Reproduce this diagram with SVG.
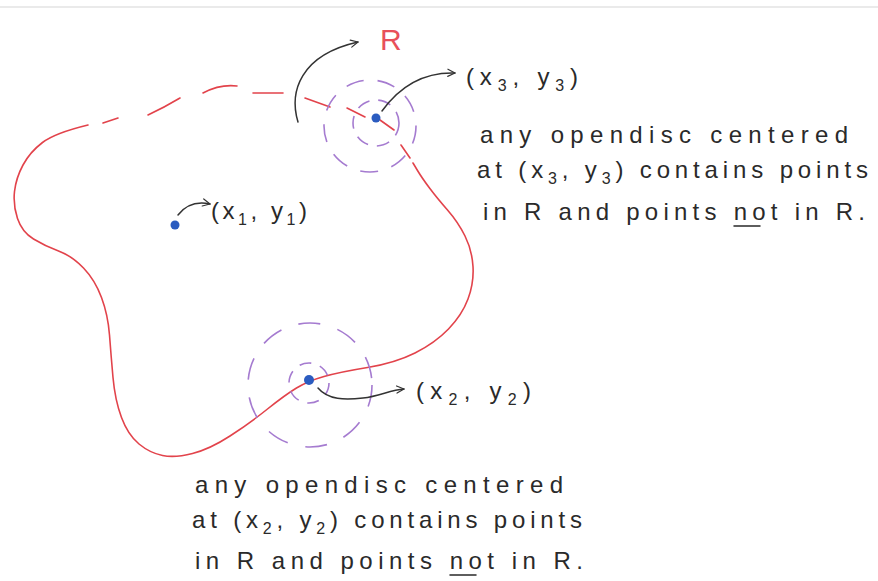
<svg xmlns="http://www.w3.org/2000/svg" width="878" height="581" viewBox="0 0 878 581">
  <style>
    .region { fill: none; stroke: #e2434b; stroke-width: 1.6; stroke-linecap: round; stroke-linejoin: round; }
    .disc { fill: none; stroke: #a57bd0; stroke-width: 1.6; }
    .dot { fill: #2b5cc0; }
    .arrow { fill: none; stroke: #333; stroke-width: 1.5; stroke-linecap: round; marker-end: url(#open); }
    .hand { font-family: "Liberation Sans", Arial, sans-serif; fill: #2a2a2a; }
    .body { font-size: 24px; }
    .lbl { font-size: 24px; }
    .sub { font-size: 16px; }
    .ul { stroke: #2a2a2a; stroke-width: 1.5; stroke-linecap: round; }
  </style>
  <defs>
    <marker id="open" viewBox="0 0 10 10" refX="9" refY="5" markerWidth="9" markerHeight="9" markerUnits="userSpaceOnUse" orient="auto">
      <path d="M1,1 L9,5 L1,9" fill="none" stroke="#333" stroke-width="1.3" stroke-linecap="round" stroke-linejoin="round"/>
    </marker>
  </defs>
  <rect width="878" height="581" fill="#ffffff"/>
  <line x1="0" y1="7" x2="878" y2="7" stroke="#e3e3e3" stroke-width="1.5"/>

  <g id="region-R">
    <path class="region" d="M88,125 Q55,133 42.5,142.5 Q30,152 23,165 Q16,178 14.5,191.5 Q13,205 17.5,218.5 Q22,232 33.5,239 Q45,246 58.5,251 Q72,256 83.5,268 Q95,280 101.5,297.5 Q108,315 109.5,335 Q111,355 113,377.5 Q115,400 121.5,417.5 Q128,435 139,444 Q150,453 162.5,455.5 Q175,458 192.5,453.5 Q210,449 230,436 Q250,423 267.5,409 Q285,395 296.5,388 Q308,381 324,376.5 Q340,372 367.5,367.5 Q395,363 415,353 Q435,343 448.5,329 Q462,315 468,299 Q474,283 473,266.5 Q472,250 465,236 Q458,222 447.5,210 Q437,198 429.5,188 Q422,178 417.5,170.5 L413,163"/>
    <path class="region" d="M103,123 L118,118 M148,115 Q165,107 180,98 M203,93 Q220,84 237,86 M253,93 L283,93 M305,98 L330,107 M347,108 L365,117 M380,120 L394,130 M401,145 L410,158"/>
    <text class="hand" x="380" y="50" font-size="30" style="fill:#e8505a">R</text>
  </g>

  <g id="disc-x3y3">
    <circle class="disc" cx="376" cy="123" r="23" stroke-dasharray="13 9"/>
    <circle class="disc" cx="370" cy="126" r="46" stroke-dasharray="18 14"/>
    <circle class="dot" cx="376" cy="118" r="4.5"/>
  </g>

  <g id="disc-x2y2">
    <circle class="disc" cx="309" cy="383" r="20" stroke-dasharray="12 9"/>
    <circle class="disc" cx="310" cy="385" r="62" stroke-dasharray="22 18"/>
    <circle class="dot" cx="309" cy="380" r="5"/>
  </g>

  <g id="point-x1y1">
    <circle class="dot" cx="175" cy="225" r="4.5"/>
  </g>

  <g id="connectors">
    <path class="arrow" d="M298,122 C289,92 300,55 358,42"/>
    <path class="arrow" d="M382,111 C400,86 425,72 455,73"/>
    <path class="arrow" d="M178,215 C185,206 196,201 210,204"/>
    <path class="arrow" d="M318,388 C328,400 345,400 363,398 C380,396 390,390 404,389"/>
  </g>

  <g id="label-x3y3">
    <text class="hand lbl" x="466" y="85" textLength="112" lengthAdjust="spacing">(x<tspan class="sub" dy="6">3</tspan><tspan dy="-6">, y</tspan><tspan class="sub" dy="6">3</tspan><tspan dy="-6">)</tspan></text>
  </g>
  <g id="label-x1y1">
    <text class="hand lbl" x="211" y="219" textLength="96" lengthAdjust="spacing">(x<tspan class="sub" dy="6">1</tspan><tspan dy="-6">, y</tspan><tspan class="sub" dy="6">1</tspan><tspan dy="-6">)</tspan></text>
  </g>
  <g id="label-x2y2">
    <text class="hand lbl" x="416" y="399" textLength="115" lengthAdjust="spacing">(x<tspan class="sub" dy="6">2</tspan><tspan dy="-6">, y</tspan><tspan class="sub" dy="6">2</tspan><tspan dy="-6">)</tspan></text>
  </g>

  <g id="note-x3y3">
    <text class="hand body" x="480" y="143" textLength="368" lengthAdjust="spacing">any opendisc centered</text>
    <text class="hand body" x="477" y="178" textLength="391" lengthAdjust="spacing">at (x<tspan class="sub" dy="6">3</tspan><tspan dy="-6">, y</tspan><tspan class="sub" dy="6">3</tspan><tspan dy="-6">) contains points</tspan></text>
    <text class="hand body" x="483" y="220" textLength="382" lengthAdjust="spacing">in R and points not in R.</text>
    <line class="ul" x1="734" y1="226" x2="760" y2="226"/>
  </g>

  <g id="note-x2y2">
    <text class="hand body" x="195" y="493" textLength="368" lengthAdjust="spacing">any opendisc centered</text>
    <text class="hand body" x="192" y="528" textLength="390" lengthAdjust="spacing">at (x<tspan class="sub" dy="6">2</tspan><tspan dy="-6">, y</tspan><tspan class="sub" dy="6">2</tspan><tspan dy="-6">) contains points</tspan></text>
    <text class="hand body" x="195" y="569" textLength="388" lengthAdjust="spacing">in R and points not in R.</text>
    <line class="ul" x1="450" y1="575" x2="476" y2="575"/>
  </g>
</svg>
